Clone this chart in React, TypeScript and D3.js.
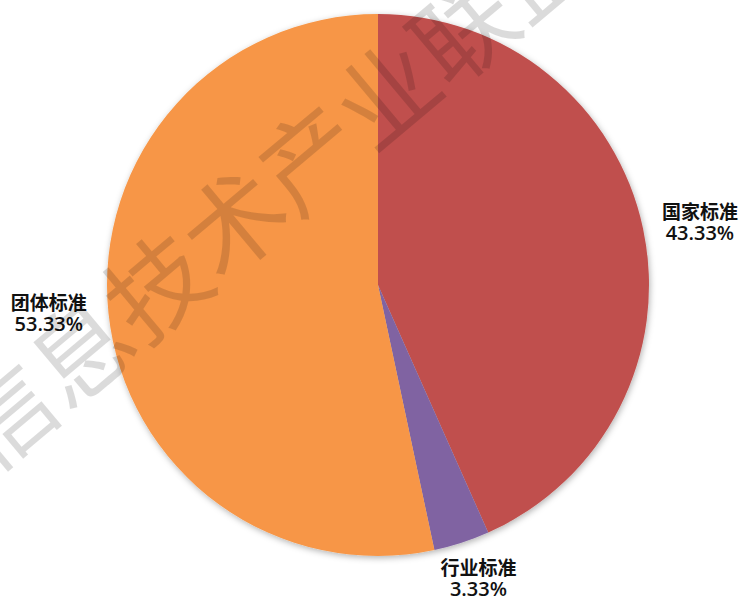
import { useEffect, useRef } from "react";
import * as d3 from "d3";

// 标准类型占比
const categories = ["国家标准", "行业标准", "团体标准"];
const values = [43.33, 3.33, 53.33];
const colors = ["#C0504D", "#8064A2", "#F79646"];
const watermark = "子信息技术产业联盟";

// label nudges (Excel "best fit" placement)
const labelNudge = [
  { dx: 4, dy: 0 },
  { dx: 0, dy: -21 },
  { dx: -6, dy: -11 },
];

export default function App() {
  const svgRef = useRef<SVGSVGElement>(null);

  useEffect(() => {
    if (!svgRef.current) return;
    const W = 739;
    const H = 597;
    const cx = 378;
    const cy = 285;
    const r = 271;

    const root = d3.select(svgRef.current);
    root.selectAll("*").remove();
    root.attr("width", W).attr("height", H);

    const defs = root.append("defs");
    const f = defs.append("filter").attr("id", "shadow")
      .attr("x", "-10%").attr("y", "-10%").attr("width", "120%").attr("height", "120%");
    f.append("feDropShadow")
      .attr("dx", 1).attr("dy", 2).attr("stdDeviation", 3)
      .attr("flood-color", "#000").attr("flood-opacity", 0.3);

    const data = categories.map((c, i) => ({ name: c, value: values[i], color: colors[i] }));
    const pie = d3.pie<typeof data[0]>().value(d => d.value).sort(null);
    const arcs = pie(data);
    const arc = d3.arc<d3.PieArcDatum<typeof data[0]>>().innerRadius(0).outerRadius(r);
    const labelArc = d3.arc<d3.PieArcDatum<typeof data[0]>>().innerRadius(325).outerRadius(325);

    const g = root.append("g").attr("transform", `translate(${cx},${cy})`);
    g.append("g").attr("filter", "url(#shadow)")
      .selectAll("path")
      .data(arcs)
      .join("path")
      .attr("d", d => arc(d) as string)
      .attr("fill", d => d.data.color);

    // labels
    const lbl = g.selectAll("g.lbl")
      .data(arcs)
      .join("g")
      .attr("class", "lbl")
      .attr("transform", (d, i) => {
        const [x, y] = labelArc.centroid(d);
        return `translate(${x + labelNudge[i].dx},${y + labelNudge[i].dy})`;
      });
    lbl.append("text")
      .attr("text-anchor", "middle")
      .attr("y", 2)
      .style("font-family", "'Noto Sans CJK SC', sans-serif")
      .style("font-weight", "bold")
      .style("font-size", "19px")
      .attr("fill", "#111")
      .text(d => d.data.name);
    lbl.append("text")
      .attr("text-anchor", "middle")
      .attr("y", 23)
      .style("font-family", "'Open Sans', 'Noto Sans', sans-serif")
      .style("font-weight", "600")
      .style("font-size", "20px")
      .attr("fill", "#111")
      .text(d => d.data.value.toFixed(2) + "%");

    // watermark
    root.append("text")
      .attr("transform", "translate(230,218) rotate(-40)")
      .attr("text-anchor", "middle")
      .attr("dominant-baseline", "central")
      .style("font-family", "'Noto Sans CJK SC', sans-serif")
      .style("font-weight", "400")
      .style("font-size", "100px")
      .attr("fill", "#000")
      .attr("fill-opacity", 0.14)
      .text(watermark);
  }, []);

  return (
    <svg ref={svgRef} style={{ position: "absolute", left: 0, top: 0, display: "block", background: "#fff" }} />
  );
}
